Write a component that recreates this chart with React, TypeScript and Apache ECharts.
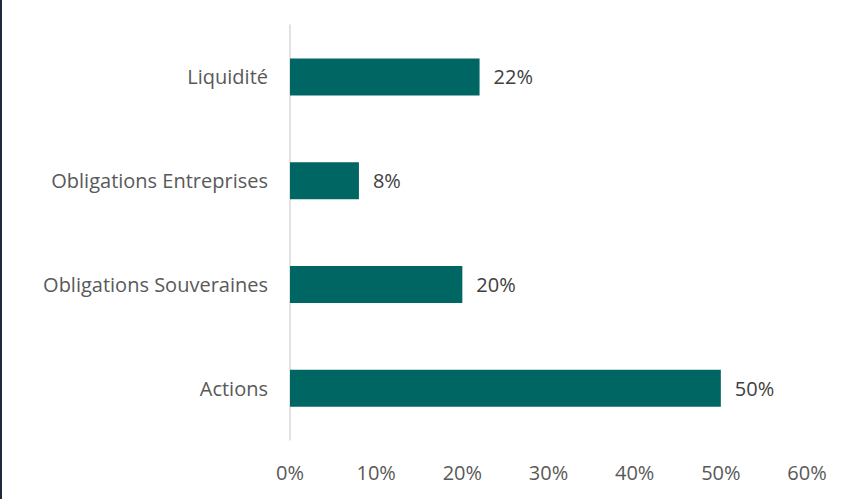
import React, { useEffect, useRef } from "react";
import * as echarts from "echarts";

const categories = ["Actions", "Obligations Souveraines", "Obligations Entreprises", "Liquidité"];
const values = [50, 20, 8, 22];
const xTicks = [0, 10, 20, 30, 40, 50, 60];

const FONT = "Open Sans";

export default function App() {
  const ref = useRef<HTMLDivElement>(null);
  useEffect(() => {
    document.body.style.margin = "0";
    const chart = echarts.init(ref.current!, null, { renderer: "svg" });
    chart.setOption({
      animation: false,
      backgroundColor: "#ffffff",
      grid: { left: 290, right: 57, top: 25, bottom: 59, containLabel: false },
      xAxis: {
        type: "value",
        min: xTicks[0],
        max: xTicks[xTicks.length - 1],
        interval: 10,
        axisLine: { show: false },
        axisTick: { show: false },
        splitLine: { show: false },
        axisLabel: {
          formatter: (v: number) => v + "%",
          color: "#595959",
          fontFamily: FONT,
          fontSize: 20,
          margin: 22,
        },
      },
      yAxis: {
        type: "category",
        data: categories,
        axisLine: { show: true, lineStyle: { color: "#d9d9d9", width: 1.5 } },
        axisTick: { show: false },
        axisLabel: {
          color: "#595959",
          fontFamily: FONT,
          fontSize: 20,
          margin: 22,
        },
      },
      series: [
        {
          type: "bar",
          data: values,
          barWidth: 37,
          itemStyle: { color: "#006663" },
          label: {
            show: true,
            position: "right",
            distance: 14,
            formatter: (p: any) => p.value + "%",
            color: "#404040",
            fontFamily: FONT,
            fontSize: 20,
          },
        },
      ],
      graphic: [
        { type: "rect", left: 0, top: 0, shape: { width: 2, height: 499 }, style: { fill: "#1f2a3a" } },
      ],
    });
    return () => chart.dispose();
  }, []);
  return <div ref={ref} style={{ width: 864, height: 499 }} />;
}
